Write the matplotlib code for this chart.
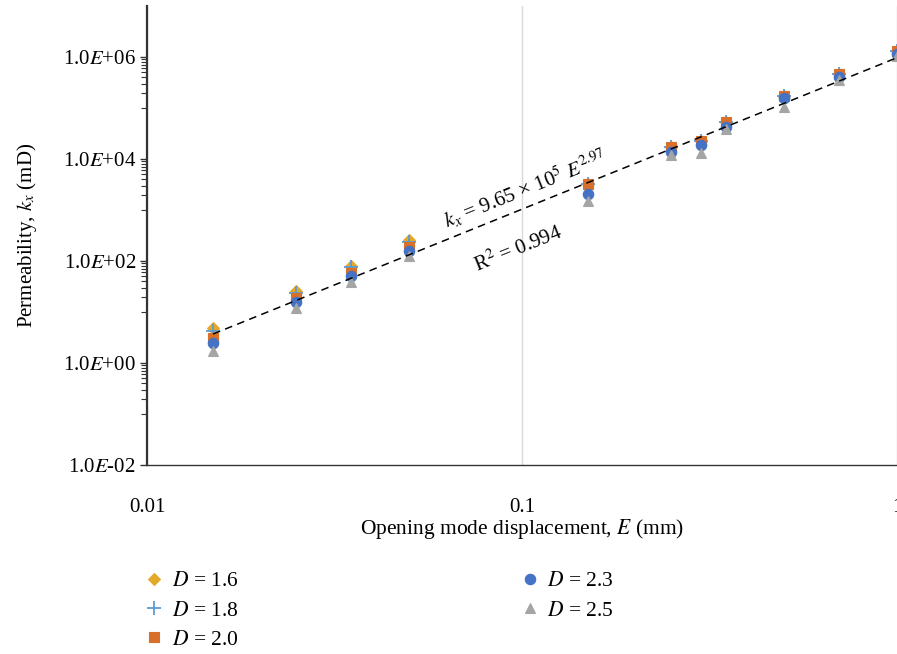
import numpy as np
import matplotlib
matplotlib.use('Agg')
import matplotlib.pyplot as plt
from matplotlib.ticker import FixedLocator, FuncFormatter

plt.rcParams['font.family'] = ['Liberation Serif', 'DejaVu Serif']
plt.rcParams['mathtext.fontset'] = 'stix'

# opening mode displacement E (mm)
E = [0.015, 0.025, 0.035, 0.05, 0.15, 0.25, 0.3, 0.35, 0.5, 0.7, 1.0]

# permeability kx (mD) for each fractal dimension D
k_d16 = [4.86, 25.8, 79.8, 258, 3235, 17200, 22500, 53100, 171900, 464000, 1310000]
k_d18 = [4.24, 23.6, 76.3, 236, 3235, 17200, 22500, 53100, 171900, 464000, 1310000]
k_d20 = [3.09, 18.8, 58.2, 188, 3235, 17200, 22500, 53100, 171900, 464000, 1310000]
k_d23 = [2.47, 15.7, 50.8, 157, 2060, 13700, 18800, 42400, 157000, 405000, 1150000]
k_d25 = [1.72, 12.0, 38.7, 125, 1500, 12000, 13100, 38700, 104700, 354000, 1050000]

# power-law trendline  kx = a * E^b
fit_a = 9.65e5
fit_b = 2.97

series = [
    ('$D$ = 1.6', k_d16, 'D', '#E3A92B', 6.5),
    ('$D$ = 1.8', k_d18, '+', '#5B9BD5', 10),
    ('$D$ = 2.0', k_d20, 's', '#D9702A', 7),
    ('$D$ = 2.3', k_d23, 'o', '#4472C4', 7.5),
    ('$D$ = 2.5', k_d25, '^', '#A5A5A5', 7.5),
]

fig = plt.figure(figsize=(8.97, 6.54), dpi=100)
ax = fig.add_axes([0.1639, 0.289, 0.8361, 0.702])

for lab, k, m, c, ms in series:
    ax.plot(E, k, linestyle='none', marker=m, color=c, markersize=ms,
            markeredgewidth=1.3 if m == '+' else 0.8, label=lab, zorder=3)

e_line = np.array([min(E), max(E)])
ax.plot(e_line, fit_a * e_line ** fit_b, color='black', linewidth=1.1,
        dashes=(5, 3.5), zorder=4)

ax.set_xscale('log')
ax.set_yscale('log')
ax.set_xlim(0.01, 1)
ax.set_ylim(1e-2, 1e7)

# y axis: labels every two decades, minor ticks only in the odd decades
ax.yaxis.set_major_locator(FixedLocator([1e-2, 1e0, 1e2, 1e4, 1e6]))
minor = [s * 10.0 ** e for e in [-1, 1, 3, 5] for s in range(1, 10)]
ax.yaxis.set_minor_locator(FixedLocator(minor))


def fmt_y(v, pos):
    p = int(round(np.log10(v)))
    sign = '+' if p >= 0 else '-'
    return '1.0$E$' + sign + '%02d' % abs(p)


ax.yaxis.set_major_formatter(FuncFormatter(fmt_y))
ax.yaxis.set_minor_formatter(FuncFormatter(lambda v, p: ''))

ax.xaxis.set_major_locator(FixedLocator([0.01, 0.1, 1]))
ax.xaxis.set_minor_locator(FixedLocator([]))
ax.xaxis.set_major_formatter(FuncFormatter(lambda v, p: '%g' % v))

ax.tick_params(axis='y', which='major', direction='out', length=5, width=1,
               color='#333333', labelsize=15, pad=3)
ax.tick_params(axis='y', which='minor', direction='out', length=4, width=0.8,
               color='#333333')
ax.tick_params(axis='x', which='major', length=0, labelsize=15, pad=24)

ax.xaxis.grid(True, color='#D9D9D9', linewidth=1)
ax.set_axisbelow(True)

for s in ['top', 'right']:
    ax.spines[s].set_visible(False)
ax.spines['left'].set_color('#333333')
ax.spines['left'].set_linewidth(1.6)
ax.spines['bottom'].set_color('#333333')
ax.spines['bottom'].set_linewidth(1.0)

ax.set_xlabel('Opening mode displacement, $E$ (mm)', fontsize=15.5, labelpad=-0.5)
ax.set_ylabel('Permeability, $k_x$ (mD)', fontsize=15, labelpad=17)

ax.text(0.102, 2570, r'$k_x$ = 9.65 × 10$^5$ $E^{2.97}$', fontsize=15,
        rotation=22, ha='center', va='center', rotation_mode='anchor')
ax.text(0.098, 172, 'R$^2$ = 0.994', fontsize=15,
        rotation=22, ha='center', va='center', rotation_mode='anchor')

fig.legend(loc='upper left', bbox_to_anchor=(0.136, 0.156), ncol=2,
           frameon=False, fontsize=15.5, columnspacing=12.95, handletextpad=0.2,
           labelspacing=0.42, handlelength=1.2)

fig.savefig('out.png', dpi=100)
